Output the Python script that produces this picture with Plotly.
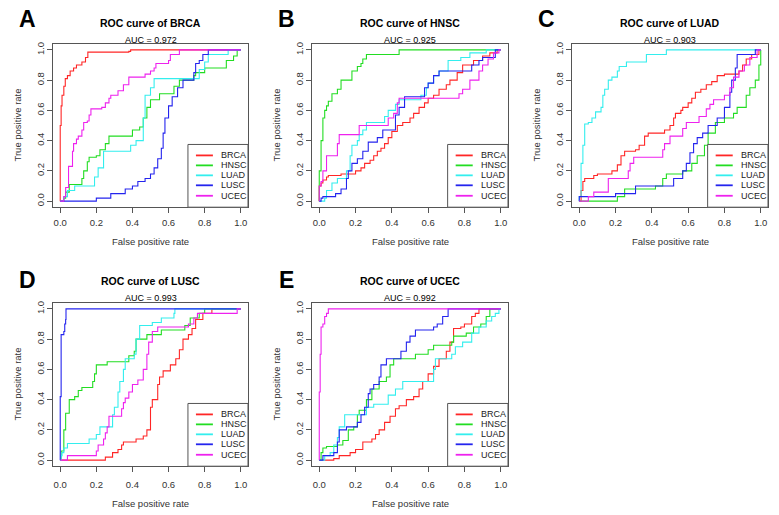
import plotly.graph_objects as go

# ---------------- data ----------------
SERIES = ["BRCA", "HNSC", "LUAD", "LUSC", "UCEC"]
COLORS = ["#FF2626", "#22DD22", "#33EEEE", "#2424EE", "#EE22EE"]
PANEL_LETTERS = ["A", "B", "C", "D", "E"]
PANEL_TARGETS = ["BRCA", "HNSC", "LUAD", "LUSC", "UCEC"]
AUC_TEXT = ["0.972", "0.925", "0.903", "0.993", "0.992"]
TICK_VALS = [0, 0.2, 0.4, 0.6, 0.8, 1.0]
TICK_TEXT = ["0.0", "0.2", "0.4", "0.6", "0.8", "1.0"]

# Panel A: ROC curve of BRCA
A_BRCA_FPR = [0, 0, 0.005, 0.01, 0.02, 0.028, 0.04, 0.055, 0.074, 0.09, 0.12, 0.14, 0.153, 0.38, 0.39, 1]
A_BRCA_TPR = [0, 0.5, 0.63, 0.7, 0.76, 0.81, 0.83, 0.86, 0.88, 0.9, 0.92, 0.95, 0.985, 0.99, 1.0, 1]
A_HNSC_FPR = [0, 0.02, 0.03, 0.05, 0.12, 0.13, 0.15, 0.16, 0.2, 0.22, 0.25, 0.27, 0.4, 0.44, 0.46, 0.48, 0.5, 0.55, 0.63, 0.66, 0.74, 0.75, 0.8, 0.92, 0.96, 0.98, 1]
A_HNSC_TPR = [0, 0.02, 0.06, 0.11, 0.15, 0.2, 0.26, 0.29, 0.3, 0.34, 0.38, 0.43, 0.47, 0.49, 0.55, 0.62, 0.67, 0.71, 0.76, 0.8, 0.83, 0.85, 0.88, 0.93, 0.96, 1.0, 1]
A_LUAD_FPR = [0, 0.02, 0.04, 0.08, 0.19, 0.21, 0.24, 0.39, 0.42, 0.46, 0.47, 0.5, 0.52, 0.77, 0.8, 0.82, 0.93, 1]
A_LUAD_TPR = [0, 0.03, 0.07, 0.1, 0.16, 0.22, 0.33, 0.37, 0.4, 0.55, 0.7, 0.75, 0.81, 0.87, 0.92, 0.97, 1.0, 1]
A_LUSC_FPR = [0, 0.2, 0.28, 0.36, 0.4, 0.43, 0.47, 0.5, 0.52, 0.54, 0.56, 0.57, 0.58, 0.6, 0.62, 0.65, 0.68, 0.74, 0.75, 0.77, 0.79, 0.82, 1]
A_LUSC_TPR = [0, 0.02, 0.05, 0.08, 0.1, 0.13, 0.15, 0.18, 0.22, 0.28, 0.35, 0.45, 0.55, 0.63, 0.69, 0.75, 0.8, 0.85, 0.91, 0.93, 0.97, 1.0, 1]
A_UCEC_FPR = [0, 0.02, 0.03, 0.046, 0.068, 0.074, 0.09, 0.1, 0.12, 0.13, 0.15, 0.16, 0.17, 0.23, 0.25, 0.27, 0.28, 0.32, 0.35, 0.38, 0.47, 0.5, 0.52, 0.53, 0.6, 0.61, 0.66, 1]
A_UCEC_TPR = [0, 0.03, 0.09, 0.23, 0.33, 0.38, 0.41, 0.43, 0.47, 0.52, 0.53, 0.57, 0.61, 0.62, 0.65, 0.68, 0.7, 0.73, 0.77, 0.82, 0.84, 0.86, 0.88, 0.91, 0.93, 0.97, 1.0, 1]

# Panel B: ROC curve of HNSC
B_BRCA_FPR = [0, 0, 0.01, 0.02, 0.04, 0.05, 0.12, 0.2, 0.23, 0.25, 0.28, 0.3, 0.32, 0.34, 0.36, 0.38, 0.4, 0.43, 0.46, 0.5, 0.52, 0.55, 0.58, 0.6, 0.63, 0.66, 0.7, 0.72, 0.76, 0.79, 0.85, 0.9, 0.94, 0.98, 1]
B_BRCA_TPR = [0, 0.1, 0.12, 0.14, 0.16, 0.17, 0.18, 0.2, 0.22, 0.25, 0.27, 0.3, 0.33, 0.35, 0.38, 0.42, 0.46, 0.5, 0.52, 0.55, 0.58, 0.62, 0.65, 0.68, 0.7, 0.74, 0.77, 0.8, 0.85, 0.9, 0.93, 0.96, 0.98, 1.0, 1]
B_HNSC_FPR = [0, 0, 0.01, 0.02, 0.03, 0.04, 0.05, 0.07, 0.1, 0.12, 0.18, 0.21, 0.23, 0.24, 0.26, 0.44, 1]
B_HNSC_TPR = [0, 0.2, 0.4, 0.55, 0.6, 0.63, 0.66, 0.71, 0.74, 0.8, 0.86, 0.89, 0.91, 0.94, 0.97, 1.0, 1]
B_LUAD_FPR = [0, 0.03, 0.04, 0.07, 0.1, 0.15, 0.17, 0.18, 0.21, 0.22, 0.24, 0.26, 0.36, 0.38, 0.42, 0.44, 0.56, 0.59, 0.6, 0.63, 0.66, 0.71, 0.78, 0.83, 0.92, 1]
B_LUAD_TPR = [0, 0.02, 0.07, 0.12, 0.15, 0.2, 0.3, 0.37, 0.4, 0.44, 0.47, 0.52, 0.56, 0.6, 0.64, 0.67, 0.7, 0.75, 0.78, 0.83, 0.86, 0.93, 0.95, 0.98, 1.0, 1]
B_LUSC_FPR = [0, 0.01, 0.02, 0.09, 0.12, 0.15, 0.16, 0.18, 0.21, 0.24, 0.27, 0.32, 0.35, 0.42, 0.44, 0.47, 0.58, 0.6, 0.63, 0.66, 0.84, 0.88, 0.9, 0.97, 1]
B_LUSC_TPR = [0, 0.02, 0.03, 0.05, 0.08, 0.15, 0.2, 0.25, 0.28, 0.33, 0.39, 0.42, 0.47, 0.57, 0.62, 0.69, 0.75, 0.78, 0.83, 0.86, 0.9, 0.93, 0.95, 1.0, 1]
B_UCEC_FPR = [0, 0, 0.01, 0.02, 0.04, 0.1, 0.11, 0.22, 0.38, 0.41, 0.43, 0.44, 0.77, 0.79, 0.83, 0.88, 0.9, 0.93, 0.96, 0.99, 1]
B_UCEC_TPR = [0, 0.1, 0.13, 0.2, 0.3, 0.38, 0.44, 0.5, 0.55, 0.58, 0.65, 0.68, 0.71, 0.74, 0.8, 0.86, 0.9, 0.94, 0.98, 1.0, 1]

# Panel C: ROC curve of LUAD
C_BRCA_FPR = [0, 0.01, 0.02, 0.03, 0.08, 0.1, 0.18, 0.21, 0.23, 0.25, 0.31, 0.33, 0.36, 0.38, 0.47, 0.5, 0.52, 0.53, 0.56, 0.57, 0.6, 0.62, 0.64, 0.67, 0.7, 0.73, 0.76, 0.8, 0.88, 0.9, 0.92, 0.95, 0.99, 1]
C_BRCA_TPR = [0, 0.07, 0.13, 0.15, 0.17, 0.18, 0.2, 0.24, 0.3, 0.33, 0.34, 0.37, 0.43, 0.45, 0.47, 0.5, 0.55, 0.58, 0.6, 0.62, 0.65, 0.68, 0.72, 0.74, 0.77, 0.79, 0.83, 0.84, 0.86, 0.9, 0.94, 0.97, 1.0, 1]
C_HNSC_FPR = [0, 0.21, 0.25, 0.42, 0.46, 0.48, 0.57, 0.62, 0.65, 0.69, 0.71, 0.75, 0.8, 0.85, 0.87, 0.92, 0.94, 0.97, 0.99, 1]
C_HNSC_TPR = [0, 0.03, 0.08, 0.1, 0.15, 0.18, 0.2, 0.25, 0.3, 0.37, 0.45, 0.52, 0.55, 0.58, 0.62, 0.7, 0.75, 0.8, 0.9, 1]
C_LUAD_FPR = [0, 0, 0.01, 0.02, 0.03, 0.05, 0.07, 0.09, 0.12, 0.13, 0.14, 0.16, 0.18, 0.21, 0.22, 0.26, 0.37, 0.48, 1]
C_LUAD_TPR = [0, 0.03, 0.25, 0.37, 0.51, 0.52, 0.55, 0.59, 0.62, 0.7, 0.74, 0.8, 0.82, 0.86, 0.89, 0.92, 0.97, 1.0, 1]
C_LUSC_FPR = [0, 0, 0.2, 0.31, 0.52, 0.57, 0.59, 0.61, 0.63, 0.65, 0.68, 0.71, 0.76, 0.8, 0.83, 0.84, 0.86, 0.87, 0.97, 1]
C_LUSC_TPR = [0, 0.03, 0.05, 0.1, 0.15, 0.2, 0.25, 0.32, 0.38, 0.42, 0.45, 0.5, 0.55, 0.62, 0.72, 0.8, 0.88, 0.97, 1.0, 1]
C_UCEC_FPR = [0, 0.05, 0.08, 0.16, 0.27, 0.28, 0.3, 0.46, 0.47, 0.5, 0.57, 0.59, 0.66, 0.7, 0.72, 0.74, 0.8, 0.83, 0.85, 0.88, 0.91, 0.94, 0.98, 1]
C_UCEC_TPR = [0, 0.03, 0.06, 0.15, 0.2, 0.25, 0.29, 0.34, 0.38, 0.43, 0.48, 0.52, 0.56, 0.61, 0.64, 0.67, 0.7, 0.75, 0.82, 0.86, 0.9, 0.95, 1.0, 1]

# Panel D: ROC curve of LUSC
D_BRCA_FPR = [0, 0.23, 0.25, 0.29, 0.32, 0.34, 0.35, 0.42, 0.46, 0.48, 0.5, 0.51, 0.54, 0.55, 0.57, 0.61, 0.64, 0.66, 0.68, 0.71, 0.73, 0.75, 0.79, 0.84, 1]
D_BRCA_TPR = [0, 0.0, 0.02, 0.05, 0.07, 0.1, 0.12, 0.14, 0.16, 0.2, 0.35, 0.4, 0.5, 0.55, 0.59, 0.63, 0.67, 0.73, 0.8, 0.83, 0.87, 0.93, 0.97, 1.0, 1]
D_HNSC_FPR = [0, 0.005, 0.02, 0.03, 0.05, 0.08, 0.1, 0.12, 0.18, 0.19, 0.2, 0.26, 0.38, 0.41, 0.42, 0.48, 0.56, 0.69, 0.72, 0.77, 0.8, 1]
D_HNSC_TPR = [0, 0.06, 0.2, 0.31, 0.4, 0.42, 0.46, 0.48, 0.52, 0.57, 0.63, 0.65, 0.69, 0.72, 0.8, 0.83, 0.86, 0.89, 0.94, 0.97, 1.0, 1]
D_LUAD_FPR = [0, 0.005, 0.01, 0.02, 0.04, 0.16, 0.2, 0.22, 0.29, 0.3, 0.32, 0.33, 0.35, 0.36, 0.41, 0.42, 0.44, 0.51, 0.56, 0.63, 0.635, 1]
D_LUAD_TPR = [0, 0.03, 0.05, 0.08, 0.11, 0.14, 0.17, 0.22, 0.3, 0.35, 0.45, 0.52, 0.6, 0.67, 0.7, 0.8, 0.89, 0.91, 0.94, 0.97, 1.0, 1]
D_LUSC_FPR = [0, 0, 0.005, 0.02, 0.025, 0.03, 0.032, 1]
D_LUSC_TPR = [0, 0.42, 0.83, 0.85, 0.9, 0.93, 1.0, 1]
D_UCEC_FPR = [0, 0.04, 0.2, 0.21, 0.24, 0.25, 0.26, 0.27, 0.34, 0.35, 0.36, 0.38, 0.4, 0.43, 0.46, 0.48, 0.49, 0.51, 0.54, 0.71, 0.74, 0.76, 0.98, 1]
D_UCEC_TPR = [0, 0.03, 0.06, 0.1, 0.14, 0.18, 0.22, 0.29, 0.34, 0.38, 0.41, 0.45, 0.5, 0.53, 0.6, 0.7, 0.78, 0.85, 0.88, 0.9, 0.94, 0.97, 1.0, 1]

# Panel E: ROC curve of UCEC
E_BRCA_FPR = [0, 0.05, 0.08, 0.11, 0.17, 0.2, 0.24, 0.29, 0.31, 0.33, 0.36, 0.39, 0.42, 0.44, 0.48, 0.52, 0.55, 0.57, 0.6, 0.63, 0.66, 0.7, 0.72, 0.74, 0.78, 0.8, 0.84, 0.86, 0.88, 1]
E_BRCA_TPR = [0, 0.0, 0.01, 0.03, 0.05, 0.07, 0.12, 0.14, 0.17, 0.2, 0.25, 0.29, 0.34, 0.36, 0.4, 0.42, 0.47, 0.52, 0.57, 0.62, 0.67, 0.72, 0.78, 0.87, 0.88, 0.9, 0.95, 0.97, 1.0, 1]
E_HNSC_FPR = [0, 0.01, 0.02, 0.04, 0.1, 0.13, 0.16, 0.19, 0.21, 0.22, 0.26, 0.29, 0.33, 0.37, 0.39, 0.41, 0.53, 0.6, 0.63, 0.73, 0.74, 0.81, 0.85, 0.89, 0.92, 0.94, 1]
E_HNSC_TPR = [0, 0.05, 0.08, 0.09, 0.1, 0.13, 0.2, 0.22, 0.3, 0.33, 0.4, 0.47, 0.52, 0.55, 0.63, 0.67, 0.7, 0.73, 0.76, 0.78, 0.82, 0.84, 0.88, 0.9, 0.95, 1.0, 1]
E_LUAD_FPR = [0, 0.03, 0.06, 0.08, 0.1, 0.11, 0.14, 0.26, 0.3, 0.38, 0.42, 0.46, 0.63, 0.64, 0.73, 0.75, 0.79, 0.84, 0.88, 0.92, 0.95, 0.97, 0.99, 1]
E_LUAD_TPR = [0, 0.03, 0.05, 0.1, 0.15, 0.22, 0.3, 0.35, 0.37, 0.43, 0.47, 0.52, 0.6, 0.67, 0.7, 0.75, 0.78, 0.84, 0.88, 0.92, 0.95, 0.97, 1.0, 1]
E_LUSC_FPR = [0, 0.02, 0.08, 0.1, 0.11, 0.15, 0.21, 0.23, 0.25, 0.27, 0.28, 0.3, 0.33, 0.34, 0.37, 0.45, 0.48, 0.5, 0.53, 0.63, 0.65, 0.68, 0.71, 1]
E_LUSC_TPR = [0, 0.03, 0.05, 0.12, 0.2, 0.22, 0.25, 0.3, 0.35, 0.44, 0.47, 0.5, 0.55, 0.63, 0.67, 0.72, 0.78, 0.82, 0.86, 0.88, 0.9, 0.95, 1.0, 1]
E_UCEC_FPR = [0, 0, 0.005, 0.01, 0.02, 0.03, 0.04, 0.05, 1]
E_UCEC_TPR = [0, 0.45, 0.7, 0.88, 0.9, 0.95, 0.97, 1.0, 1]

CURVES = {
    "A": [(A_BRCA_FPR, A_BRCA_TPR), (A_HNSC_FPR, A_HNSC_TPR), (A_LUAD_FPR, A_LUAD_TPR), (A_LUSC_FPR, A_LUSC_TPR), (A_UCEC_FPR, A_UCEC_TPR)],
    "B": [(B_BRCA_FPR, B_BRCA_TPR), (B_HNSC_FPR, B_HNSC_TPR), (B_LUAD_FPR, B_LUAD_TPR), (B_LUSC_FPR, B_LUSC_TPR), (B_UCEC_FPR, B_UCEC_TPR)],
    "C": [(C_BRCA_FPR, C_BRCA_TPR), (C_HNSC_FPR, C_HNSC_TPR), (C_LUAD_FPR, C_LUAD_TPR), (C_LUSC_FPR, C_LUSC_TPR), (C_UCEC_FPR, C_UCEC_TPR)],
    "D": [(D_BRCA_FPR, D_BRCA_TPR), (D_HNSC_FPR, D_HNSC_TPR), (D_LUAD_FPR, D_LUAD_TPR), (D_LUSC_FPR, D_LUSC_TPR), (D_UCEC_FPR, D_UCEC_TPR)],
    "E": [(E_BRCA_FPR, E_BRCA_TPR), (E_HNSC_FPR, E_HNSC_TPR), (E_LUAD_FPR, E_LUAD_TPR), (E_LUSC_FPR, E_LUSC_TPR), (E_UCEC_FPR, E_UCEC_TPR)],
}

# ---------------- layout geometry (pixels) ----------------
W, H = 779, 515
# plot boxes: (left, right, top, bottom)
BOXES = [(53, 248, 42, 206), (312, 508, 42, 206), (572, 768, 42, 206),
         (53, 248, 302, 466), (312, 508, 302, 466)]
ROW_INFO = {42: dict(title_y=21, auc_y=38, letter_y=17, xtitle_y=240, standoff=1),
            302: dict(title_y=280, auc_y=297, letter_y=279, xtitle_y=503, standoff=4)}

FONT = "Liberation Sans, Arial, sans-serif"
AXCOL = "#555555"
TXTCOL = "#333333"

fig = go.Figure()
annotations = []
shapes = []
layout_axes = {}

for i, letter in enumerate(PANEL_LETTERS):
    n = i + 1
    xa = "x" if n == 1 else f"x{n}"
    ya = "y" if n == 1 else f"y{n}"
    l, r, t, b = BOXES[i]
    info = ROW_INFO[t]

    for j, name in enumerate(SERIES):
        fx, ty = CURVES[letter][j]
        fig.add_trace(go.Scatter(
            x=fx, y=ty, mode="lines", name=name, showlegend=False,
            line=dict(color=COLORS[j], width=1.1, shape="hv"),
            xaxis=xa, yaxis=ya, hoverinfo="skip"))

    common = dict(range=[-0.04, 1.04], showgrid=False, zeroline=False,
                  showline=True, mirror=True, linecolor=AXCOL, linewidth=1,
                  ticks="outside", ticklen=5, tickcolor=AXCOL, tickwidth=1,
                  tickvals=TICK_VALS, ticktext=TICK_TEXT,
                  tickfont=dict(family=FONT, size=9.5, color=TXTCOL),
                  fixedrange=True)
    xkey = "xaxis" if n == 1 else f"xaxis{n}"
    ykey = "yaxis" if n == 1 else f"yaxis{n}"
    layout_axes[xkey] = dict(common, domain=[l / W, r / W], anchor=ya,
                             ticklabelstandoff=info["standoff"])
    layout_axes[ykey] = dict(common, domain=[1 - b / H, 1 - t / H], anchor=xa,
                             tickangle=-90, ticklabelstandoff=-1)

    cx = (l + r) / 2 / W
    # panel letter
    annotations.append(dict(text=f"<b>{letter}</b>", x=(l - 26) / W, y=1 - info["letter_y"] / H,
                            xref="paper", yref="paper", showarrow=False,
                            font=dict(family=FONT, size=23, color="black"),
                            xanchor="center", yanchor="middle"))
    # title
    annotations.append(dict(text=f"<b>ROC curve of {PANEL_TARGETS[i]}</b>", x=cx, y=1 - info["title_y"] / H,
                            xref="paper", yref="paper", showarrow=False,
                            font=dict(family=FONT, size=10.5, color="black"),
                            xanchor="center", yanchor="middle"))
    annotations.append(dict(text=f"AUC = {AUC_TEXT[i]}", x=cx, y=1 - info["auc_y"] / H,
                            xref="paper", yref="paper", showarrow=False,
                            font=dict(family=FONT, size=9, color="black"),
                            xanchor="center", yanchor="middle"))
    # axis titles
    annotations.append(dict(text="False positive rate", x=cx, y=1 - info["xtitle_y"] / H,
                            xref="paper", yref="paper", showarrow=False,
                            font=dict(family=FONT, size=9.5, color=TXTCOL),
                            xanchor="center", yanchor="middle"))
    annotations.append(dict(text="True positive rate", x=(l - 35) / W, y=1 - (t + b) / 2 / H,
                            xref="paper", yref="paper", showarrow=False, textangle=-90,
                            font=dict(family=FONT, size=9.5, color=TXTCOL),
                            xanchor="center", yanchor="middle"))

    # legend box (bottom-right of the plot box)
    xd = f"{xa} domain"
    yd = f"{ya} domain"
    shapes.append(dict(type="rect", xref=xd, yref=yd, x0=0.692, x1=1.0, y0=0.0, y1=0.384,
                       line=dict(color=AXCOL, width=1), fillcolor="white", layer="above"))
    row_y = [0.317, 0.256, 0.195, 0.134, 0.070]
    for j, name in enumerate(SERIES):
        shapes.append(dict(type="line", xref=xd, yref=yd, x0=0.733, x1=0.82,
                           y0=row_y[j], y1=row_y[j],
                           line=dict(color=COLORS[j], width=1.8), layer="above"))
        annotations.append(dict(text=name, x=0.852, y=row_y[j], xref=xd, yref=yd,
                                showarrow=False, xanchor="left", yanchor="middle",
                                font=dict(family=FONT, size=9, color="#222222")))

fig.update_layout(
    width=W, height=H, autosize=False,
    margin=dict(l=0, r=0, t=0, b=0),
    paper_bgcolor="white", plot_bgcolor="white",
    showlegend=False,
    annotations=annotations, shapes=shapes,
    **layout_axes)

fig.write_html("out.html",
               config={"displayModeBar": False, "staticPlot": True},
               post_script="document.body.style.margin='0px';document.body.style.overflow='hidden';")
